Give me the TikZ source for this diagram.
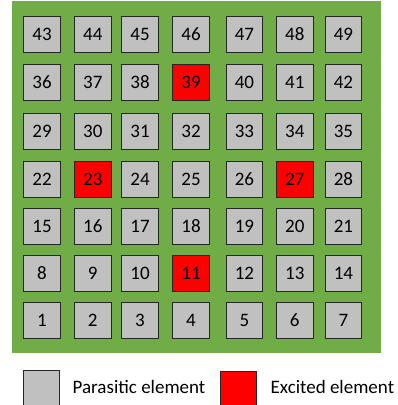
\documentclass[tikz,border=0pt]{standalone}
\usepackage{fontspec}
\setmainfont{Carlito}
\definecolor{bggreen}{HTML}{70AD47}
\definecolor{elgray}{HTML}{C0C0C0}
\definecolor{elred}{HTML}{FF0000}
\begin{document}
\begin{tikzpicture}[x=1pt,y=-1pt,
  elem/.style={draw=black!85,line width=1pt,fill=elgray,minimum width=36.5pt,minimum height=36pt,inner sep=0pt,anchor=north west,font=\fontsize{19}{22}\selectfont},
  excited/.style={elem,fill=elred},
  legtext/.style={anchor=base west,inner sep=0pt,font=\fontsize{19}{22}\selectfont}]
\useasboundingbox (0,0) rectangle (398,405);
\fill[bggreen] (11.5,1) rectangle (381,352.5);
\def\colx{{23.3,74,121.3,172.3,225.7,276,324.7}}
\def\rowy{{301.5,254.7,208,161,113,64,15.7}}
\foreach \r in {0,...,6}{
  \foreach \c in {0,...,6}{
    \pgfmathtruncatemacro{\n}{\r*7+\c+1}
    \pgfmathsetmacro{\xx}{\colx[\c]}
    \pgfmathsetmacro{\yy}{\rowy[\r]}
    \ifnum\n=11 \def\st{excited}\else
    \ifnum\n=23 \def\st{excited}\else
    \ifnum\n=27 \def\st{excited}\else
    \ifnum\n=39 \def\st{excited}\else
    \def\st{elem}\fi\fi\fi\fi
    \node[\st] (e\n) at (\xx,\yy) {\n};
  }
}
\node[elem,minimum height=37pt] (lgray) at (22.7,370) {};
\node[legtext] (tgray) at (72.5,393.5) {Parasitic element};
\node[excited,minimum height=37pt] (lred) at (219.5,370.5) {};
\node[legtext] (tred) at (270.5,393.5) {Excited element};
\end{tikzpicture}
\end{document}
